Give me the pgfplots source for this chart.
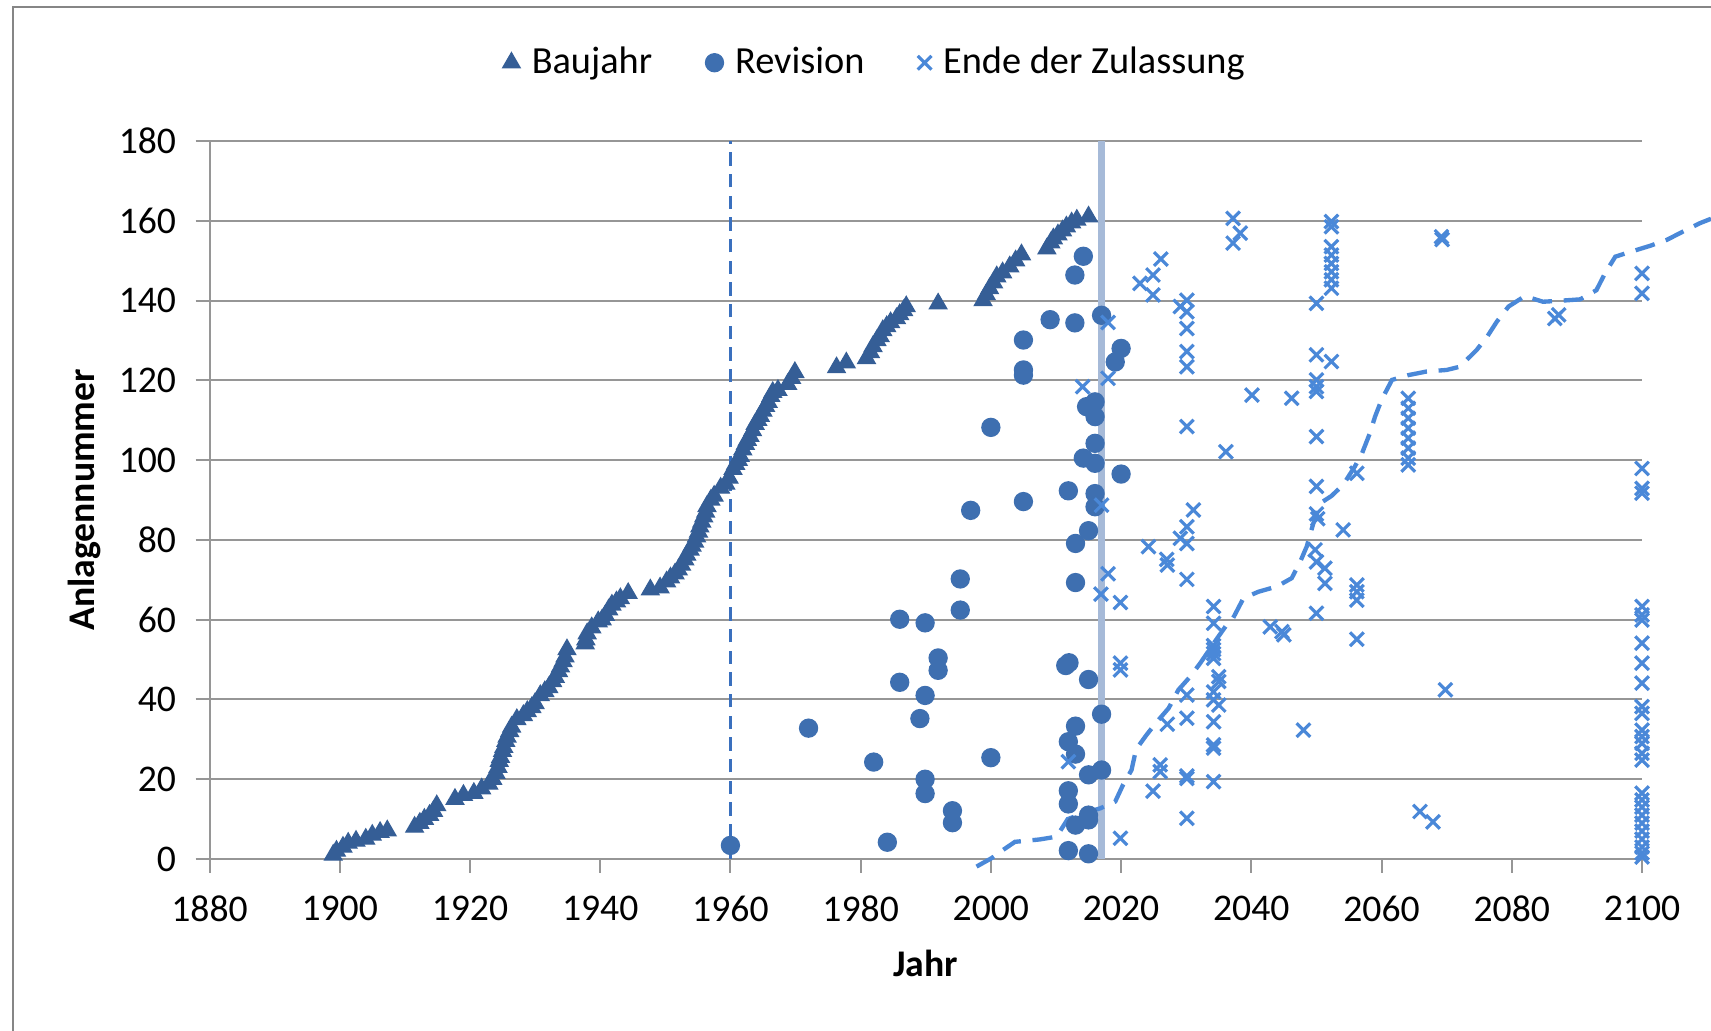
\documentclass[border=0pt]{standalone}
\usepackage{fontspec}
\setmainfont{Carlito}
\usepackage{pgfplots}
\pgfplotsset{compat=1.18}
\definecolor{tri}{RGB}{53,94,150}
\definecolor{circ}{RGB}{62,111,176}
\definecolor{crs}{RGB}{74,136,216}
\definecolor{vline}{RGB}{166,186,216}
\definecolor{dline}{RGB}{58,112,190}
\definecolor{grd}{RGB}{150,150,150}
\definecolor{frm}{RGB}{134,134,134}
\begin{document}
\begin{tikzpicture}[x=1pt,y=1pt]
\useasboundingbox (0,0) rectangle (513.3,309.3);
\draw[frm, line width=0.7pt] (3.9,-1) -- (3.9,307.2) -- (514,307.2);
\begin{axis}[
  at={(62.85pt,51.6pt)}, anchor=south west,
  scale only axis, width=429.75pt, height=215.4pt,
  xmin=1880, xmax=2100, ymin=0, ymax=180,
  xtick={1880,1900,...,2100}, ytick={0,20,...,180},
  axis x line=bottom, axis y line=left,
  axis line style={-, grd, line width=0.6pt},
  tick align=outside, major tick length=4.2pt,
  tick style={grd, line width=0.6pt},
  ymajorgrids=true, major grid style={grd, line width=0.6pt},
  clip=false,
  /pgf/number format/assume math mode=true,
  /pgf/number format/1000 sep={},
  ticklabel style={font=\fontsize{11.3}{13}\selectfont},
  xticklabel style={yshift=-3.4pt},
  yticklabel style={xshift=-2.3pt},
  xlabel={\textbf{Jahr}}, ylabel={\textbf{Anlagennummer}},
  label style={font=\fontsize{11.3}{13}\selectfont},
  xlabel style={at={(axis description cs:0.5,-0.146)}, anchor=center},
  ylabel style={at={(axis description cs:-0.087,0.5)}, anchor=center},
  legend style={at={(axis description cs:0.466,1.109)}, anchor=center, draw=none, fill=none,
    font=\fontsize{11.5}{13}\selectfont, legend columns=3,
    /tikz/every even column/.append style={column sep=14pt},
    /tikz/every odd column/.append style={column sep=1.5pt}},
  legend image code/.code={\draw[mark repeat=2,mark phase=2] plot coordinates {(0pt,0pt) (3pt,0pt) (6pt,0pt)};},
]
\addplot[forget plot, vline, line width=2pt] coordinates {(2017,0) (2017,180)};
\addplot[forget plot, dline, line width=0.9pt, dash pattern=on 4pt off 2.5pt] coordinates {(1960,0) (1960,180)};

\addplot[only marks, mark=triangle*, mark size=3pt, color=tri] coordinates {
(1899,1) (1899.5,2) (1900.5,3) (1901.3,4) (1902.5,4.5) (1904,5) (1905,6) (1906.2,6.7) (1907.3,7.1)
(1911.5,8) (1912.3,9) (1913,10) (1913.8,11) (1914.4,12) (1914.9,13.4)
(1917.7,15) (1919,16) (1920.6,16.5) (1921.8,17.6) (1922.9,18.8) (1923.5,20) (1924,21.5) (1924.3,23) (1924.5,24.5) (1924.7,25.5) (1925,27) (1925.2,28) (1925.5,29.5) (1925.7,30.6) (1926.1,32) (1926.4,33.1) (1927.2,35) (1928.2,36) (1928.8,37) (1929.5,38) (1930,39) (1930.8,41) (1931.5,42) (1932.1,43) (1932.7,44.5) (1933.1,45.6) (1933.6,47) (1933.9,48.2) (1934.3,49.5) (1934.6,50.7) (1934.9,52.5)
(1937.7,54) (1937.8,55) (1938,56.5) (1938.7,58) (1939.7,59.5) (1940.3,60) (1940.8,61.1) (1941.3,62.5) (1941.8,63.7) (1942.5,64.5) (1943.1,65.3) (1944.3,66.6)
(1947.7,67.5) (1949.2,68) (1950.2,69.5) (1950.8,70.5) (1951.5,71.5) (1952,72.5) (1952.5,73.7) (1953,75) (1953.3,76.2) (1953.8,77.5) (1954.1,78.5) (1954.5,79.5) (1954.8,80.8) (1955.1,82) (1955.3,83.3) (1955.6,84.5) (1955.9,85.8) (1956.2,87) (1956.4,88.4) (1957,90) (1957.5,91) (1958.5,93) (1959.3,94) (1959.8,95.5) (1960.4,97.7) (1960.8,99) (1961.2,100) (1961.5,101) (1961.9,102.6) (1962.3,104) (1962.6,105) (1963,106) (1963.4,107.4) (1963.8,109) (1964.2,110) (1964.6,111) (1965,112.3) (1965.4,113.5) (1965.8,114.5) (1966.2,116) (1966.5,117) (1967.3,117.5) (1968.8,119) (1969.4,120.5) (1969.9,122)
(1976.3,123.2) (1977.8,124.4) (1980.9,125.5) (1981.5,127) (1981.9,128.5) (1982.5,130) (1983,131) (1983.4,132.5) (1984,133.5) (1984.6,134.5) (1985.5,135.5) (1986,136.5) (1986.6,137.5) (1987,138.5)
(1991.9,139.2)
(1998.8,140) (1999.3,141.5) (1999.8,143) (2000.4,144.5) (2000.9,146) (2001.8,147) (2002.9,148.5) (2003.8,150) (2004.7,151.5)
(2008.6,153) (2009.2,154.5) (2009.6,155.5) (2010.3,156.5) (2011,157.5) (2011.6,158.5) (2012.4,159.5) (2013.2,160.2) (2015,161)
};
\addlegendentry{Baujahr}

\addplot[only marks, mark=*, mark size=2.7pt, color=circ] coordinates {
(1960,3.4) (1972,32.8) (1982,24.3) (1984.1,4.2) (1986,60.1) (1986,44.3) (1989.9,59.2) (1989.9,41) (1989.1,35.2) (1989.9,20) (1989.9,16.4) (1991.9,50.4) (1991.9,47.3) (1994.1,12.1) (1994.1,9.1) (1995.3,70.2) (1995.3,62.4) (1996.9,87.4) (2000,108.2) (2000,25.4) (2005,130.1) (2005,122.6) (2005,121.3) (2005,89.6) (2009.1,135.2) (2014.2,151.1) (2012.9,146.4) (2012.9,134.4) (2017,136.3) (2020,128) (2019.1,124.6) (2014.7,113.4) (2016,114.6) (2016,110.9) (2016,104.2) (2014.2,100.5) (2016,99.2) (2020,96.5) (2011.9,92.3) (2016,91.6) (2016,88.3) (2015,82.3) (2013,79.1) (2013,69.3) (2011.5,48.5) (2012,49.2) (2015,45) (2017,36.3) (2013,33.3) (2011.9,29.4) (2013,26.3) (2015,21.1) (2017,22.3) (2011.9,17.1) (2011.9,13.8) (2015,11) (2015,9.8) (2013,8.5) (2011.9,2.1) (2015,1.3)
};
\addlegendentry{Revision}

\addplot[only marks, mark=x, mark size=2.9pt, color=crs, mark options={line width=0.95pt}] coordinates {
(2011.9,24.4) (2014.1,118.4) (2017,88.7) (2016.9,66.4) (2018,134.5) (2018,120.5) (2018,71.5) (2019.9,64.3) (2019.9,49.1) (2019.9,47.4) (2019.9,5.2)
(2022.9,144.3) (2024.9,146.4) (2026.1,150.4) (2024.9,141.4)
(2024.2,78.3) (2027,75.1) (2027.1,73.7) (2027.1,33.8) (2026,23.6) (2026,21.9) (2024.9,17)
(2029.1,138.5) (2030.1,140.1) (2030.1,137.2) (2030.1,133) (2030.1,127.2) (2030.1,123.4) (2030.1,108.4) (2029.1,80.4) (2030.1,83.3) (2031.1,87.5) (2030.1,79.1) (2030.1,70.1) (2030.1,41.1) (2030.1,35.3) (2030.1,20.8) (2030.1,20.2) (2030.1,10.2)
(2034.2,63.3) (2034.2,59.1) (2034.2,53.5) (2034.2,52.5) (2034.2,51.5) (2034.2,50.3) (2035,45.7) (2035,44.5) (2034.2,41.9) (2034.2,39.9) (2035,38.6) (2034.2,34.4) (2034.2,28.6) (2034.2,27.8) (2034.2,19.4)
(2036.1,102.1) (2037.2,160.6) (2038.3,156.9) (2037.2,154.4)
(2040.1,116.3) (2042.9,58.2) (2044.7,57) (2045,56.2) (2046.2,115.5) (2048,32.3)
(2050,139.3) (2050,126.4) (2050,120.1) (2050,118.4) (2050,117.2) (2050,105.9) (2050,93.4) (2050,86.5) (2050.2,85.3) (2049.8,77.5) (2050,74.5) (2051.3,72.9) (2051.3,69.1) (2050,61.6)
(2052.3,159.8) (2052.3,158.5) (2052.3,153.5) (2052.3,151.4) (2052.3,149.3) (2052.3,147.2) (2052.3,145.2) (2052.3,143.1) (2052.3,124.7)
(2054.1,82.5) (2056.2,96.7) (2056.2,68.7) (2056.2,67) (2056.2,64.9) (2056.2,55.1)
(2064.1,115.5) (2064.1,113) (2064.1,110.5) (2064.1,108) (2064.1,105.5) (2064.1,103) (2064.1,100.5) (2064.1,98.8)
(2065.9,11.9) (2067.9,9.3) (2069.2,156) (2069.3,155.3) (2069.8,42.4)
(2086.6,135.5) (2087.2,136.4)
(2100,146.8) (2100,141.8) (2100,97.9) (2100,92.9) (2100,91.7) (2100,63.3) (2100,61.2) (2100,59.9) (2100,54.1) (2100,49.1) (2100,44.1) (2100,38.2) (2100,36.5) (2100,32.3) (2100,30.7) (2100,29) (2100,26.5) (2100,24.8)
(2100,16.5) (2100,14.8) (2100,13) (2100,11) (2100,9) (2100,7) (2100,5) (2100,3) (2100,1.5) (2100,0.5)
};
\addlegendentry{Ende der Zulassung}

\addplot[forget plot, crs, line width=1.3pt, dash pattern=on 6pt off 3.5pt] coordinates {
(1997.8,-1.9) (2000.1,0.2) (2001.9,2.3) (2003.7,4.3) (2007.5,4.9) (2010.1,5.6) (2011.8,10) (2014.5,11.6) (2016.8,12.7) (2019.1,14.4) (2020.3,18.6) (2021.6,22.3) (2022.3,27.5) (2023.9,31.1) (2025.5,34.4) (2027.3,37.8) (2028.8,42.4) (2030.6,45.7) (2032.2,49.2) (2034.7,55.2) (2036.3,58.9) (2037.2,60.4) (2038.8,65.4) (2041.1,67) (2043.9,68.3) (2046.2,70.4) (2047.5,74.5) (2048.5,78.3) (2049.5,84) (2050.6,89.2) (2052.3,91) (2054.1,93.8) (2055.9,98.4) (2057,101.7) (2058.2,106.7) (2059,110.9) (2060,115.1) (2061.6,120.1) (2064.1,121.3) (2066.9,122.2) (2070,122.6) (2072,123.4) (2074.6,127.6) (2076.2,130.9) (2077.7,134.7) (2079.5,138.5) (2082,141.1) (2084.8,139.7) (2087.9,140) (2090.5,140.3) (2093,142.6) (2094.3,146.8) (2095.9,151) (2098.2,152.2) (2101.2,153.7) (2103.8,155.2) (2106.3,157.3) (2108.9,159.4) (2110.6,160.5)
};
\end{axis}
\end{tikzpicture}
\end{document}
